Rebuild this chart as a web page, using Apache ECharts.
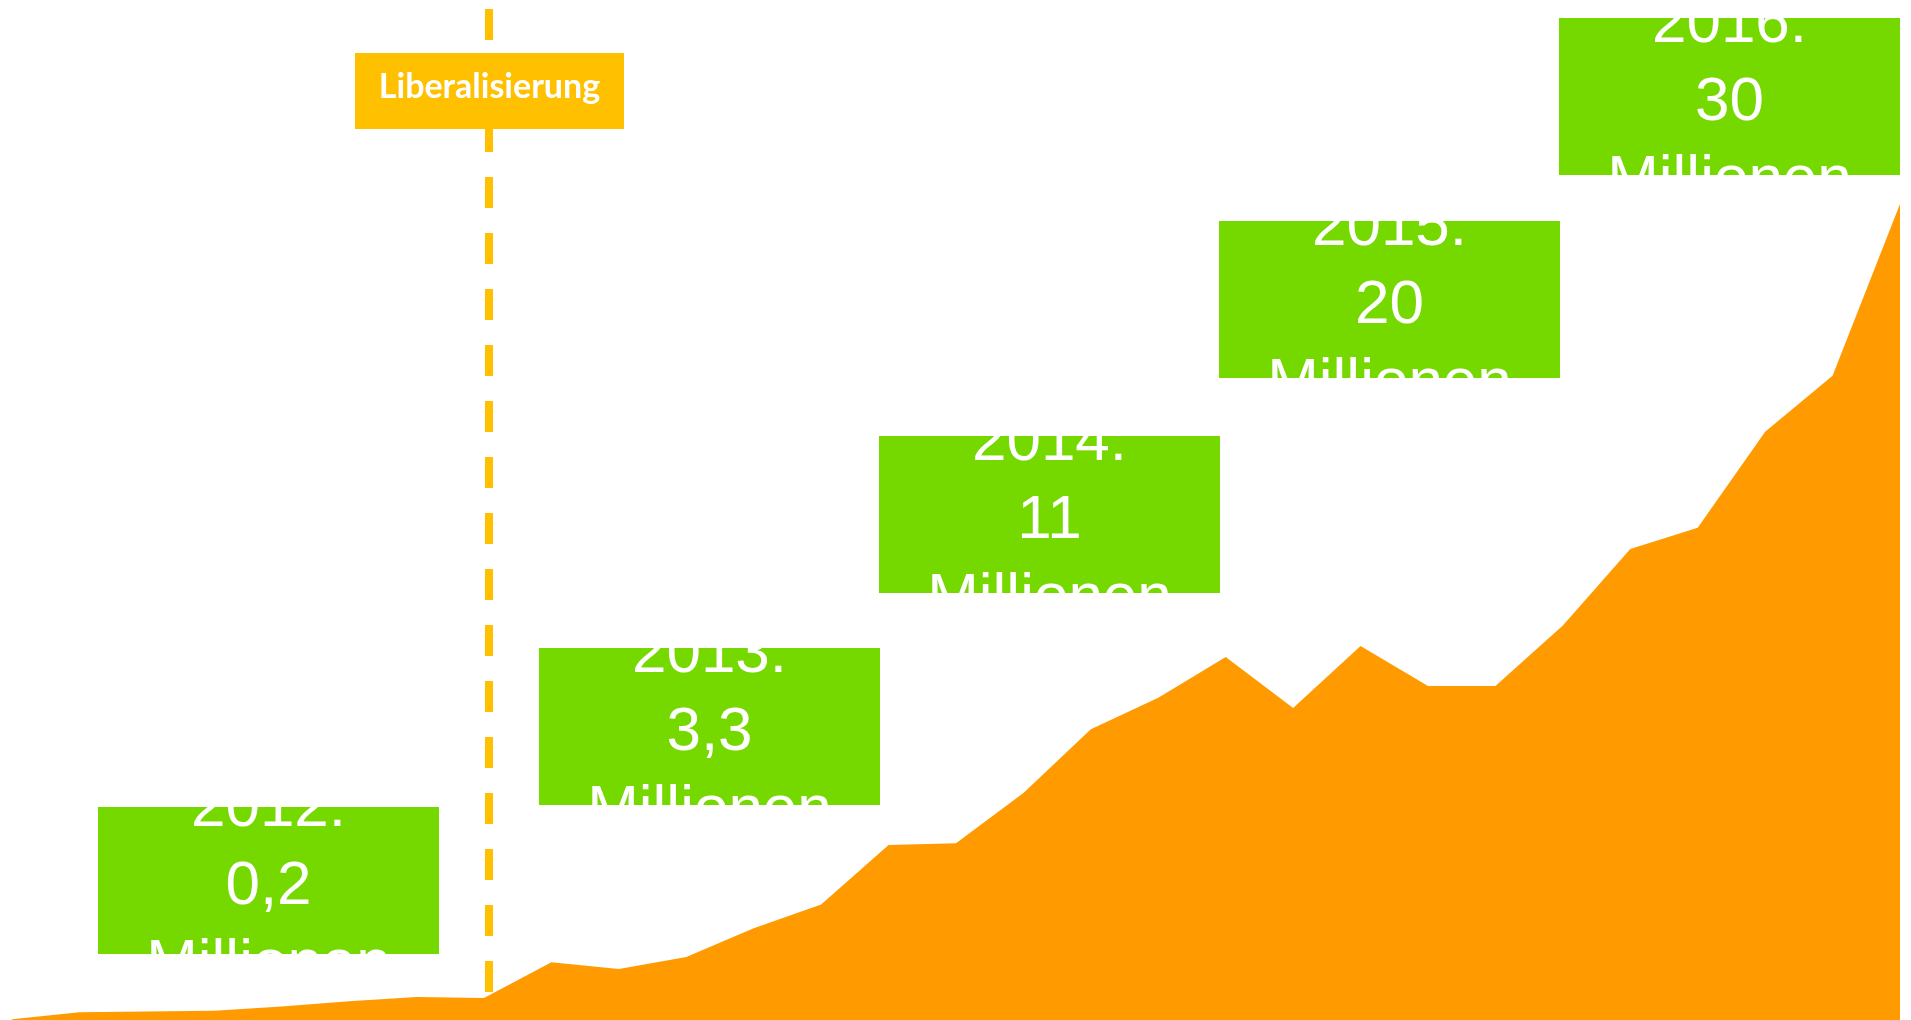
<!DOCTYPE html>
<html>
<head>
<meta charset="utf-8">
<script src="https://cdn.jsdelivr.net/npm/echarts@6/dist/echarts.min.js"></script>
<style>
html,body{margin:0;padding:0;background:#ffffff;overflow:hidden;}
#chart{width:1911px;height:1020px;}
</style>
</head>
<body>
<div id="chart"></div>
<script>
// ---- data ----
const periods = ['1','2','3','4','5','6','7','8','9','10','11','12','13','14','15','16','17','18','19','20','21','22','23','24','25','26','27','28','29'];
const values = [0.1, 0.9, 1.0, 1.1, 1.6, 2.2, 2.7, 2.6, 6.8, 6.0, 7.4, 10.8, 13.6, 20.6, 20.8, 26.7, 34.2, 37.9, 42.7, 36.7, 44.0, 39.3, 39.3, 46.4, 55.4, 57.9, 69.2, 75.8, 96.0];
const markerPosition = 7.07;
const markerLabel = 'Liberalisierung';
const annotationYears = ['2012:', '2013:', '2014:', '2015:', '2016:'];
const annotationValues = ['0,2', '3,3', '11', '20', '30'];
const annotationUnit = 'Millionen';

// ---- layout / styling ----
const boxLayout = [
  {x: 98,   y: 807, w: 341, h: 147},
  {x: 539,  y: 648, w: 341, h: 157},
  {x: 879,  y: 436, w: 341, h: 157},
  {x: 1219, y: 221, w: 341, h: 157},
  {x: 1559, y: 18,  w: 341, h: 157}
];
const GREEN = '#75D900';
const ORANGE = '#FF9B00';
const GOLD = '#FFC000';

const chart = echarts.init(document.getElementById('chart'), null, {renderer: 'canvas'});

const graphics = [];
boxLayout.forEach((b, i) => {
  graphics.push({
    type: 'rect', z: 100,
    shape: {x: b.x, y: b.y, width: b.w, height: b.h},
    style: {fill: GREEN}
  });
  graphics.push({
    type: 'text', z: 101,
    x: b.x + b.w / 2, y: b.y + b.h / 2 + 6,
    style: {
      text: annotationYears[i] + '\n' + annotationValues[i] + '\n' + annotationUnit,
      fill: '#ffffff',
      font: '62px "Liberation Sans", Arial, sans-serif',
      align: 'center', verticalAlign: 'middle', lineHeight: 78
    }
  });
});
graphics.push({
  type: 'rect', z: 100,
  shape: {x: 355, y: 53, width: 269, height: 76},
  style: {fill: GOLD}
});
graphics.push({
  type: 'text', z: 101,
  x: 489.5, y: 87,
  style: {
    text: markerLabel, fill: '#ffffff',
    font: 'bold 34px Lato, "Open Sans", sans-serif',
    align: 'center', verticalAlign: 'middle'
  }
});

const seriesData = values.map((v, i) => [i, v]);

chart.setOption({
  animation: false,
  backgroundColor: '#ffffff',
  grid: {left: 12, right: 11, top: 0, bottom: 0, containLabel: false},
  xAxis: {
    type: 'value', min: 0, max: periods.length - 1,
    show: false, splitLine: {show: false}
  },
  yAxis: {
    type: 'value', min: 0, max: 120,
    show: false, splitLine: {show: false}
  },
  series: [
    {
      type: 'line', data: [], z: 1, silent: true,
      markLine: {
        silent: true, z: 1,
        symbol: ['none', 'none'],
        label: {show: false},
        lineStyle: {color: GOLD, width: 8, type: [31, 25], dashOffset: 28, opacity: 1},
        emphasis: {disabled: true},
        data: [{xAxis: markerPosition}]
      }
    },
    {
      type: 'line', z: 3,
      data: seriesData,
      symbol: 'none',
      lineStyle: {width: 0, color: ORANGE},
      areaStyle: {color: ORANGE, opacity: 1},
      silent: true
    }
  ],
  graphic: graphics
});
</script>
</body>
</html>
